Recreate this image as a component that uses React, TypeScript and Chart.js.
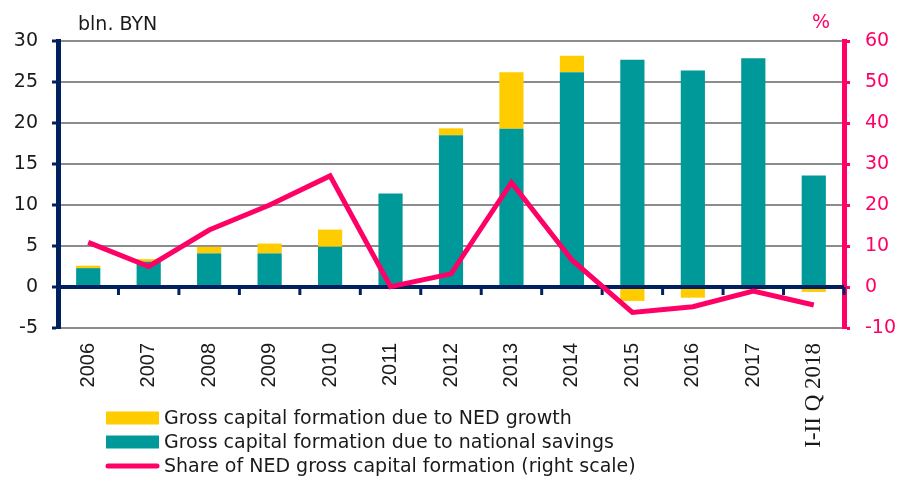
import React, { useEffect, useRef } from "react";
import { Chart, registerables } from "chart.js";

Chart.register(...registerables);

const categories = ["2006", "2007", "2008", "2009", "2010", "2011", "2012", "2013", "2014", "2015", "2016", "2017", "I-II Q 2018"];
const nedGrowth = [0.3, 0.3, 0.8, 1.2, 2.1, 0, 0.85, 6.9, 2.0, -1.7, -1.3, -0.3, -0.6];
const nationalSavings = [2.3, 3.1, 4.1, 4.1, 4.9, 11.4, 18.5, 19.3, 26.2, 27.7, 26.4, 27.9, 13.6];
const nedShare = [10.9, 5.0, 13.9, 20.0, 27.1, 0.1, 3.2, 25.5, 6.6, -6.2, -4.8, -1.0, -4.4];

const seriesNames = [
  "Gross capital formation due to NED growth",
  "Gross capital formation due to national savings",
  "Share of NED gross capital formation (right scale)",
];
const leftTicks = { min: -5, max: 30, step: 5 };
const rightTicks = { min: -10, max: 60, step: 10 };
const leftTitle = "bln. BYN";
const rightTitle = "%";

const YELLOW = "#FFCC00";
const TEAL = "#009999";
const PINK = "#FF0066";
const NAVY = "#002060";
const GRID = "#8c8c8c";
const TEXT = "#1a1a1a";

export default function App() {
  const ref = useRef<HTMLCanvasElement | null>(null);

  useEffect(() => {
    const canvas = ref.current;
    if (!canvas) return;

    const overlay = {
      id: "overlay",
      afterDatasetDraw(chart: any, args: any) {
        if (args.index !== 1) return; // after teal bars, before line
        const ctx = chart.ctx;
        const x = chart.scales.x;
        const y = chart.scales.y;
        const y0 = y.getPixelForValue(0);
        ctx.save();
        ctx.strokeStyle = NAVY;
        ctx.lineWidth = 4;
        ctx.beginPath();
        ctx.moveTo(chart.chartArea.left, y0);
        ctx.lineTo(chart.chartArea.right, y0);
        ctx.stroke();
        ctx.lineWidth = 3;
        const n = categories.length;
        for (let i = 1; i <= n; i++) {
          const px = i < n ? (x.getPixelForValue(i - 1) + x.getPixelForValue(i)) / 2 : chart.chartArea.right;
          ctx.beginPath();
          ctx.moveTo(px, y0);
          ctx.lineTo(px, y0 + 8);
          ctx.stroke();
        }
        ctx.restore();
      },
      afterDraw(chart: any) {
        const ctx = chart.ctx;
        ctx.save();
        ctx.font = "19px 'DejaVu Sans'";
        ctx.textBaseline = "alphabetic";
        ctx.fillStyle = TEXT;
        ctx.textAlign = "left";
        ctx.fillText(leftTitle, 78, 30);
        ctx.fillStyle = PINK;
        ctx.fillText(rightTitle, 812, 28);

        // legend
        const lx = 106;
        const tx = 164;
        const rows = [418, 442, 466];
        ctx.fillStyle = YELLOW;
        ctx.fillRect(lx, rows[0] - 6.5, 53, 13);
        ctx.fillStyle = TEAL;
        ctx.fillRect(lx, rows[1] - 6.5, 53, 13);
        ctx.strokeStyle = PINK;
        ctx.lineWidth = 5;
        ctx.lineCap = "round";
        ctx.beginPath();
        ctx.moveTo(lx + 2, rows[2]);
        ctx.lineTo(lx + 51, rows[2]);
        ctx.stroke();
        ctx.fillStyle = TEXT;
        ctx.textBaseline = "middle";
        seriesNames.forEach((s, i) => ctx.fillText(s, tx, rows[i] + 1));
        ctx.restore();
      },
    };

    const chart = new Chart(canvas, {
      type: "bar",
      data: {
        labels: categories,
        datasets: [
          {
            type: "line",
            label: seriesNames[2],
            data: nedShare,
            yAxisID: "y1",
            borderColor: PINK,
            backgroundColor: PINK,
            borderWidth: 5,
            pointRadius: 0,
            tension: 0,
            order: 0,
          } as any,
          {
            type: "bar",
            label: seriesNames[1],
            data: nationalSavings,
            yAxisID: "y",
            backgroundColor: TEAL,
            stack: "s",
            categoryPercentage: 0.8,
            barPercentage: 0.5,
            order: 1,
          },
          {
            type: "bar",
            label: seriesNames[0],
            data: nedGrowth,
            yAxisID: "y",
            backgroundColor: YELLOW,
            stack: "s",
            categoryPercentage: 0.8,
            barPercentage: 0.5,
            order: 2,
          },
        ],
      },
      options: {
        responsive: false,
        animation: false,
        layout: { padding: { top: 41, bottom: 0, left: 0, right: 0 } },
        plugins: {
          legend: { display: false },
          tooltip: { enabled: false },
          title: { display: false },
        },
        scales: {
          x: {
            stacked: true,
            grid: { display: false, drawTicks: false },
            border: { display: false },
            ticks: {
              autoSkip: false,
              minRotation: 90,
              maxRotation: 90,
              padding: 15,
              color: TEXT,
              font: (c: any) =>
                c.index === categories.length - 1
                  ? { family: "'Liberation Serif'", size: 23 }
                  : { family: "'Liberation Sans'", size: 20 },
            },
            afterFit: (s: any) => {
              s.height = 153;
            },
          },
          y: {
            position: "left",
            stacked: true,
            min: leftTicks.min,
            max: leftTicks.max,
            ticks: { stepSize: leftTicks.step, padding: 14, color: TEXT, font: { family: "'DejaVu Sans'", size: 19 } },
            grid: {
              color: (c: any) => (c.tick && c.tick.value === 0 ? "rgba(0,0,0,0)" : GRID),
              lineWidth: 2,
              tickColor: NAVY,
              tickWidth: 3,
              tickLength: 6,
            },
            border: { color: NAVY, width: 5 },
            afterFit: (s: any) => {
              s.width = 58;
            },
          },
          y1: {
            position: "right",
            min: rightTicks.min,
            max: rightTicks.max,
            ticks: { stepSize: rightTicks.step, padding: 15, color: PINK, font: { family: "'DejaVu Sans'", size: 19 } },
            grid: {
              drawOnChartArea: false,
              color: PINK,
              tickColor: PINK,
              tickWidth: 3,
              tickLength: 6,
            },
            border: { color: PINK, width: 5 },
            afterFit: (s: any) => {
              s.width = 54;
            },
          },
        },
      },
      plugins: [overlay],
    });

    return () => chart.destroy();
  }, []);

  return (
    <div style={{ position: "absolute", left: 0, top: 0, width: 898, height: 481, background: "#fff" }}>
      <canvas ref={ref} width={898} height={481} style={{ display: "block" }} />
    </div>
  );
}
